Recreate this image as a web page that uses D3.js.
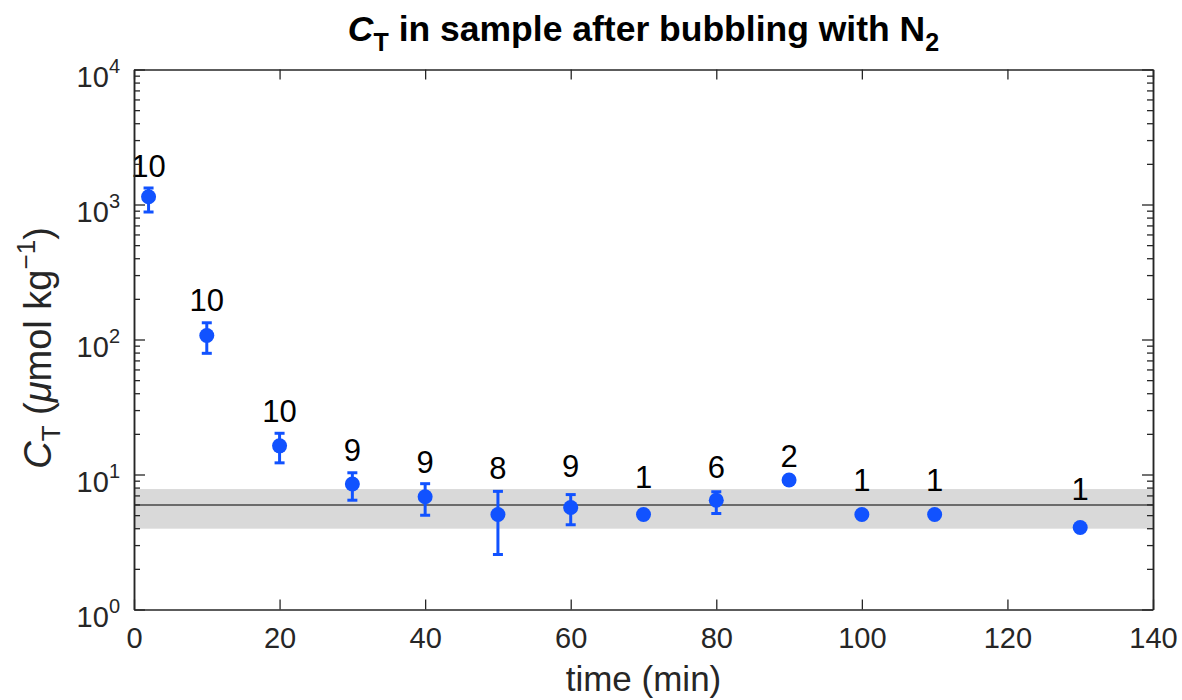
<!DOCTYPE html>
<html>
<head>
<meta charset="utf-8">
<script src="https://cdn.jsdelivr.net/npm/d3@7"></script>
<style>
  html, body { margin: 0; padding: 0; background: #fff; }
  svg { display: block; font-family: "Liberation Sans", Arial, Helvetica, sans-serif; }
</style>
</head>
<body>
<svg id="chart" width="1182" height="700"></svg>
<script>
// ---- data ----
const times    = [2, 10, 20, 30, 40, 50, 60, 70, 80, 90, 100, 110, 130];
const means    = [1140, 107, 16.3, 8.5, 6.85, 5.05, 5.7, 5.05, 6.45, 9.1, 5.05, 5.05, 4.05];
const errLow   = [880, 79, 12.2, 6.45, 5.0, 2.55, 4.25, null, 5.15, null, null, null, null];
const errHigh  = [1325, 133, 20.2, 10.3, 8.55, 7.5, 7.1, null, 7.45, null, null, null, null];
const counts   = [10, 10, 10, 9, 9, 8, 9, 1, 6, 2, 1, 1, 1];
const labelAt  = [1607, 163, 24.4, 12.6, 10.2, 9.2, 9.6, 7.9, 9.4, 11.4, 7.55, 7.55, 6.5];
const blankMean = 5.95;
const blankLow  = 3.97;
const blankHigh = 7.8;
const xTicks = [0, 20, 40, 60, 80, 100, 120, 140];
const yTickExps = [0, 1, 2, 3, 4];

// ---- layout ----
const svg = d3.select("#chart");
const L = 134, R = 1153, T = 69.5, B = 609.5;
const axisColor = "#262626";
const blue = "#1152ff";

const x = d3.scaleLinear().domain([0, 140]).range([L, R]);
const y = d3.scaleLog().domain([1, 1e4]).range([B, T]);

const yMajors = yTickExps.map(e => Math.pow(10, e));
const yMinors = [];
for (let e = 0; e < 4; e++) for (let k = 2; k <= 9; k++) yMinors.push(k * Math.pow(10, e));

// clip
svg.append("defs").append("clipPath").attr("id", "clip")
  .append("rect").attr("x", L).attr("y", T).attr("width", R - L).attr("height", B - T);

const plot = svg.append("g").attr("clip-path", "url(#clip)");

// blank band
plot.append("rect")
  .attr("x", x(0)).attr("width", x(140) - x(0))
  .attr("y", y(blankHigh)).attr("height", y(blankLow) - y(blankHigh))
  .attr("fill", "#d9d9d9");
plot.append("line")
  .attr("x1", x(0)).attr("x2", x(140))
  .attr("y1", y(blankMean)).attr("y2", y(blankMean))
  .attr("stroke", "#6b6b6b").attr("stroke-width", 2);

// data
const data = times.map((t, i) => ({t, m: means[i], lo: errLow[i], hi: errHigh[i], n: counts[i], la: labelAt[i]}));
const withErr = data.filter(d => d.lo != null);

const eg = plot.append("g").attr("stroke", blue).attr("stroke-width", 3).attr("fill", "none");
eg.selectAll("line.v").data(withErr).join("line").attr("class", "v")
  .attr("x1", d => x(d.t)).attr("x2", d => x(d.t))
  .attr("y1", d => y(d.lo)).attr("y2", d => y(d.hi));
eg.selectAll("line.capl").data(withErr).join("line").attr("class", "capl")
  .attr("x1", d => x(d.t) - 5).attr("x2", d => x(d.t) + 5)
  .attr("y1", d => y(d.lo)).attr("y2", d => y(d.lo));
eg.selectAll("line.caph").data(withErr).join("line").attr("class", "caph")
  .attr("x1", d => x(d.t) - 5).attr("x2", d => x(d.t) + 5)
  .attr("y1", d => y(d.hi)).attr("y2", d => y(d.hi));

plot.selectAll("circle.pt").data(data).join("circle").attr("class", "pt")
  .attr("cx", d => x(d.t)).attr("cy", d => y(d.m)).attr("r", 7.5)
  .attr("fill", blue);

// count labels
svg.selectAll("text.cnt").data(data).join("text").attr("class", "cnt")
  .attr("x", d => x(d.t)).attr("y", d => y(d.la))
  .attr("text-anchor", "middle").attr("font-size", 31).attr("fill", "#000")
  .text(d => d.n);

// ---- axes ----
const ax = svg.append("g");
// bottom
ax.append("g").attr("transform", `translate(0,${B})`)
  .call(d3.axisBottom(x).tickValues(xTicks).tickSizeInner(-10).tickSizeOuter(0).tickPadding(18).tickFormat(d3.format("d")));
// top
ax.append("g").attr("transform", `translate(0,${T})`)
  .call(d3.axisTop(x).tickValues(xTicks).tickSizeInner(-10).tickSizeOuter(0).tickFormat(""));
// left majors & minors
ax.append("g").attr("transform", `translate(${L},0)`)
  .call(d3.axisLeft(y).tickValues(yMajors).tickSizeInner(-11).tickSizeOuter(0).tickFormat(""));
ax.append("g").attr("transform", `translate(${L},0)`)
  .call(d3.axisLeft(y).tickValues(yMinors).tickSizeInner(-6).tickSizeOuter(0).tickFormat(""));
// right majors & minors
ax.append("g").attr("transform", `translate(${R},0)`)
  .call(d3.axisRight(y).tickValues(yMajors).tickSizeInner(-11).tickSizeOuter(0).tickFormat(""));
ax.append("g").attr("transform", `translate(${R},0)`)
  .call(d3.axisRight(y).tickValues(yMinors).tickSizeInner(-6).tickSizeOuter(0).tickFormat(""));

ax.selectAll(".domain").attr("stroke", axisColor).attr("stroke-width", 1.5);
ax.selectAll(".tick line").attr("stroke", axisColor).attr("stroke-width", 1.3);
ax.selectAll(".tick text").attr("font-size", 29).attr("fill", axisColor)
  .attr("font-family", "Liberation Sans, Arial, sans-serif");

// y tick labels with superscript
const yl = svg.append("g").attr("fill", axisColor);
yTickExps.forEach(e => {
  const t = yl.append("text")
    .attr("x", L - 14).attr("y", y(Math.pow(10, e)) + 17)
    .attr("text-anchor", "end").attr("font-size", 29);
  t.append("tspan").text("10");
  t.append("tspan").attr("dy", -14).attr("font-size", 20).text(e);
});

// x axis label
svg.append("text")
  .attr("x", (L + R) / 2).attr("y", 691)
  .attr("text-anchor", "middle").attr("font-size", 35).attr("fill", axisColor)
  .text("time (min)");

// y axis label
const ylab = svg.append("text")
  .attr("transform", `translate(51,348) rotate(-90)`)
  .attr("text-anchor", "middle").attr("font-size", 38).attr("fill", axisColor);
ylab.append("tspan").attr("font-style", "italic").text("C");
ylab.append("tspan").attr("font-size", 26).attr("dy", 9).text("T");
ylab.append("tspan").attr("dy", -9).text(" (");
ylab.append("tspan").attr("font-style", "italic").text("\u03bc");
ylab.append("tspan").text("mol kg");
ylab.append("tspan").attr("font-size", 26).attr("dy", -16).text("\u22121");
ylab.append("tspan").attr("dy", 16).text(")");

// title
const title = svg.append("text")
  .attr("x", (L + R) / 2).attr("y", 41)
  .attr("text-anchor", "middle").attr("font-size", 35.5).attr("font-weight", "bold").attr("fill", "#000");
title.append("tspan").attr("font-style", "italic").text("C");
title.append("tspan").attr("font-size", 25).attr("dy", 10).text("T");
title.append("tspan").attr("dy", -10).text(" in sample after bubbling with N");
title.append("tspan").attr("font-size", 25).attr("dy", 10).text("2");
</script>
</body>
</html>
